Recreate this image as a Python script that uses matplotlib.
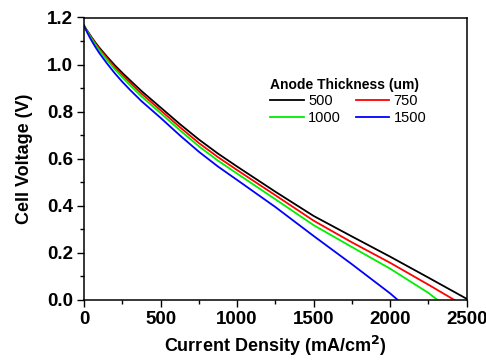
import matplotlib
matplotlib.use("Agg")
import matplotlib.pyplot as plt
from matplotlib.ticker import MultipleLocator

plt.rcParams['font.family'] = ['Liberation Sans', 'DejaVu Sans']

# Data
cur_500 = [0, 10, 25, 50, 75, 100, 150, 200, 250, 300, 375, 500, 625, 750, 875, 1000, 1250, 1500, 1750, 2000, 2250, 2500]
v_500 = [1.166, 1.155, 1.14, 1.116, 1.093, 1.072, 1.034, 0.998, 0.965, 0.934, 0.888, 0.818, 0.748, 0.682, 0.622, 0.567, 0.46, 0.357, 0.27, 0.184, 0.095, 0.005]

cur_750 = [0, 10, 25, 50, 75, 100, 150, 200, 250, 300, 375, 500, 625, 750, 875, 1000, 1250, 1500, 1750, 2000, 2250, 2420]
v_750 = [1.166, 1.154, 1.138, 1.113, 1.089, 1.067, 1.028, 0.99, 0.956, 0.924, 0.877, 0.806, 0.735, 0.667, 0.607, 0.552, 0.445, 0.337, 0.245, 0.158, 0.065, 0.0]

cur_1000 = [0, 10, 25, 50, 75, 100, 150, 200, 250, 300, 375, 500, 625, 750, 875, 1000, 1250, 1500, 1750, 2000, 2250, 2310]
v_1000 = [1.166, 1.153, 1.136, 1.109, 1.084, 1.061, 1.02, 0.981, 0.946, 0.913, 0.865, 0.794, 0.722, 0.653, 0.592, 0.537, 0.428, 0.318, 0.225, 0.133, 0.03, 0.0]

cur_1500 = [0, 10, 25, 50, 75, 100, 150, 200, 250, 300, 375, 500, 625, 750, 875, 1000, 1250, 1500, 1750, 2000, 2050]
v_1500 = [1.166, 1.151, 1.131, 1.101, 1.074, 1.049, 1.005, 0.964, 0.927, 0.893, 0.845, 0.774, 0.7, 0.63, 0.567, 0.51, 0.395, 0.272, 0.152, 0.028, 0.0]

labels = ["500", "750", "1000", "1500"]
colors = ["#000000", "#ff0000", "#00ee00", "#0000ff"]
series = [(cur_500, v_500), (cur_750, v_750), (cur_1000, v_1000), (cur_1500, v_1500)]

fig = plt.figure(figsize=(4.86, 3.6), dpi=100)
ax = fig.add_axes([84/486, 1-300/360, (466.7-84)/486, (300-17.5)/360])

handles = []
for (x, y), lab, c in zip(series, labels, colors):
    h, = ax.plot(x, y, color=c, lw=1.3, label=lab)
    handles.append(h)

ax.set_xlim(0, 2500)
ax.set_ylim(0, 1.2)
ax.xaxis.set_major_locator(MultipleLocator(500))
ax.xaxis.set_minor_locator(MultipleLocator(250))
ax.yaxis.set_major_locator(MultipleLocator(0.2))
ax.yaxis.set_minor_locator(MultipleLocator(0.1))
ax.yaxis.set_major_formatter(matplotlib.ticker.FormatStrFormatter('%.1f'))
ax.tick_params(which='major', direction='out', length=5, width=1, labelsize=13.5, pad=3)
ax.tick_params(which='minor', direction='out', length=3, width=1)
for lbl in ax.get_xticklabels() + ax.get_yticklabels():
    lbl.set_fontweight('bold')
for s in ax.spines.values():
    s.set_linewidth(1.1)

ax.set_xlabel("Current Density (mA/cm$\\mathbf{^2}$)", fontsize=13, fontweight='bold', labelpad=4)
ax.set_ylabel("Cell Voltage (V)", fontsize=13, fontweight='bold', labelpad=10)

order = [0, 2, 1, 3]
leg = ax.legend([handles[i] for i in order], [labels[i] for i in order],
                ncol=2, frameon=False, loc='upper left', bbox_to_anchor=(0.487, 0.785),
                title="Anode Thickness (um)", title_fontproperties={'weight': 'bold', 'size': 10},
                fontsize=10.5, handlelength=2.3, handletextpad=0.3, columnspacing=1.0,
                borderpad=0, borderaxespad=0, labelspacing=0.15, alignment='left')

fig.savefig("out.png", dpi=100)
